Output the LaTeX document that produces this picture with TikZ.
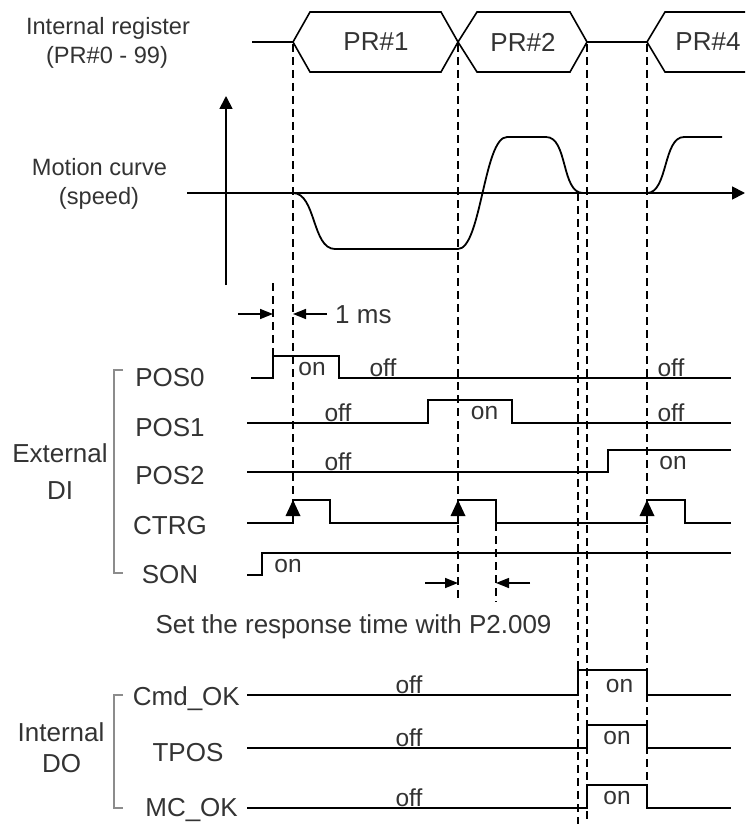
\documentclass[tikz,border=0pt]{standalone}
\usepackage{fontspec}
\setmainfont{Liberation Sans}
\usetikzlibrary{arrows.meta}
\definecolor{txt}{HTML}{333333}
\definecolor{brk}{HTML}{8C8C8C}
\begin{document}
\begin{tikzpicture}[x=1pt,y=-1pt,
  sig/.style={line width=1.8pt,line join=miter},
  hexline/.style={line width=1.6pt,line join=miter},
  dsh/.style={line width=1.5pt,dash pattern=on 8pt off 5pt},
  bracketline/.style={line width=1.3pt,draw=brk},
  lab/.style={font=\fontsize{26}{30}\selectfont,text=txt,inner sep=0pt},
  smalllab/.style={font=\fontsize{23.6}{28}\selectfont,text=txt,inner sep=0pt},
  st/.style={font=\fontsize{24.5}{28}\selectfont,text=txt,inner sep=0pt},
  dimarrow/.style={-{Triangle[length=13pt,width=10pt]},line width=1.5pt},
  axisarrow/.style={-{Triangle[length=13pt,width=13pt]},line width=1.8pt},
]
\useasboundingbox (0,0) rectangle (745,824);

% ---------- dashed reference lines ----------
\draw[dsh] (293,44) -- (293,500);
\draw[dsh] (273,283) -- (273,356);
\draw[dsh] (458,44) -- (458,602);
\draw[dsh] (496,523) -- (496,602);
\draw[dsh] (578,193) -- (578,824);
\draw[dsh] (587,44) -- (587,824);
\draw[dsh] (647,44) -- (647,785);

% ---------- internal register ----------
\node[smalllab,anchor=base] (reg1) at (108,35) {Internal register};
\node[smalllab,anchor=base] (reg2) at (107,64) {(PR\#0 - 99)};
\draw[hexline] (252,42) -- (293,42);
\draw[hexline] (293,42) -- (310,12) -- (441,12) -- (458,42) -- (441,72) -- (310,72) -- cycle;
\draw[hexline] (458,42) -- (477,12) -- (570,12) -- (587,42) -- (570,72) -- (477,72) -- cycle;
\draw[hexline] (587,42) -- (647,42);
\draw[hexline] (745,12) -- (665,12) -- (647,42) -- (665,72) -- (745,72);
\node[lab] (pr1) at (376,42) {PR\#1};
\node[lab] (pr2) at (523,42) {PR\#2};
\node[lab] (pr4) at (708,42) {PR\#4};

% ---------- motion curve ----------
\node[smalllab,anchor=base] (mc1) at (99.5,175) {Motion curve};
\node[smalllab,anchor=base] (mc2) at (99,204) {(speed)};
\draw[axisarrow] (226,285) -- (226,96);
\draw[axisarrow] (187,193) -- (745,193);
\draw[sig] (226,193) -- (293,193)
  .. controls (316,193) and (312,249) .. (335,249) -- (458,249)
  .. controls (481,249) and (484,137) .. (507,137) -- (546,137)
  .. controls (568,137) and (561,193) .. (583,193) -- (647,193)
  .. controls (668,193) and (663,137) .. (684,137) -- (722,137);

% ---------- 1 ms ----------
\draw[dimarrow] (238,314) -- (273,314);
\draw[dimarrow] (327,314) -- (293,314);
\node[lab,anchor=west] (onems) at (335,315) {1 ms};

% ---------- External DI ----------
\draw[bracketline] (123,370) -- (114,370) -- (114,573) -- (123,573);
\node[lab,anchor=base] (ext1) at (60,462) {External};
\node[lab,anchor=base] (ext2) at (60,499) {DI};

\node[lab,anchor=base] (pos0) at (170,386) {POS0};
\node[lab,anchor=base] (pos1) at (170,436) {POS1};
\node[lab,anchor=base] (pos2) at (170,484) {POS2};
\node[lab,anchor=base] (ctrg) at (170,534) {CTRG};
\node[lab,anchor=base] (son) at (170,583) {SON};

\draw[sig] (251,378) -- (273,378) -- (273,356) -- (339,356) -- (339,378) -- (731,378);
\draw[sig] (247,423) -- (428,423) -- (428,400) -- (512,400) -- (512,423) -- (731,423);
\draw[sig] (247,472) -- (608,472) -- (608,450) -- (731,450);
\draw[sig] (247,523) -- (293,523) -- (293,500) -- (330,500) -- (330,523) -- (458,523)
  -- (458,500) -- (496,500) -- (496,523) -- (647,523) -- (647,500) -- (685,500)
  -- (685,523) -- (731,523);
\draw[sig] (247,575) -- (262,575) -- (262,553) -- (731,553);

\fill (293,500) -- ++(-7.5,16) -- ++(15,0) -- cycle;
\fill (458,500) -- ++(-7.5,16) -- ++(15,0) -- cycle;
\fill (647,500) -- ++(-7.5,16) -- ++(15,0) -- cycle;

\node[st] (p0on) at (312,369) {on};
\node[st,anchor=south] (p0off) at (383,376.5) {off};
\node[st,anchor=south] (p0off2) at (671,376.5) {off};
\node[st,anchor=south] (p1off) at (338,421.5) {off};
\node[st] (p1on) at (484.5,413) {on};
\node[st,anchor=south] (p1off2) at (671,421.5) {off};
\node[st,anchor=south] (p2off) at (338,470.5) {off};
\node[st] (p2on) at (673,463) {on};
\node[st] (sonon) at (288,566.5) {on};

% ---------- response time ----------
\draw[dimarrow] (425,583) -- (458,583);
\draw[dimarrow] (530,583) -- (496,583);
\node[lab,anchor=base] (resp) at (353.5,633) {Set the response time with P2.009};

% ---------- Internal DO ----------
\draw[bracketline] (123,695) -- (114,695) -- (114,808) -- (123,808);
\node[lab,anchor=base] (int1) at (61,741.5) {Internal};
\node[lab,anchor=base] (int2) at (61.5,772.5) {DO};

\node[lab,anchor=base east] (cmdok) at (240,705) {Cmd\_OK};
\node[lab,anchor=base] (tpos) at (188,761.5) {TPOS};
\node[lab,anchor=base east] (mcok) at (238,816.5) {MC\_OK};

\draw[sig] (247,695) -- (578,695) -- (578,670) -- (647,670) -- (647,695) -- (731,695);
\draw[sig] (247,748) -- (587,748) -- (587,725) -- (647,725) -- (647,748) -- (731,748);
\draw[sig] (247,808) -- (587,808) -- (587,785) -- (647,785) -- (647,808) -- (731,808);

\node[st,anchor=south] (cmdoff) at (409,693.5) {off};
\node[st] (cmdon) at (619.5,686) {on};
\node[st,anchor=south] (tposoff) at (409,746.5) {off};
\node[st] (tposon) at (617,738) {on};
\node[st,anchor=south] (mcoff) at (409,806.5) {off};
\node[st] (mcon) at (617,798) {on};
\end{tikzpicture}
\end{document}
